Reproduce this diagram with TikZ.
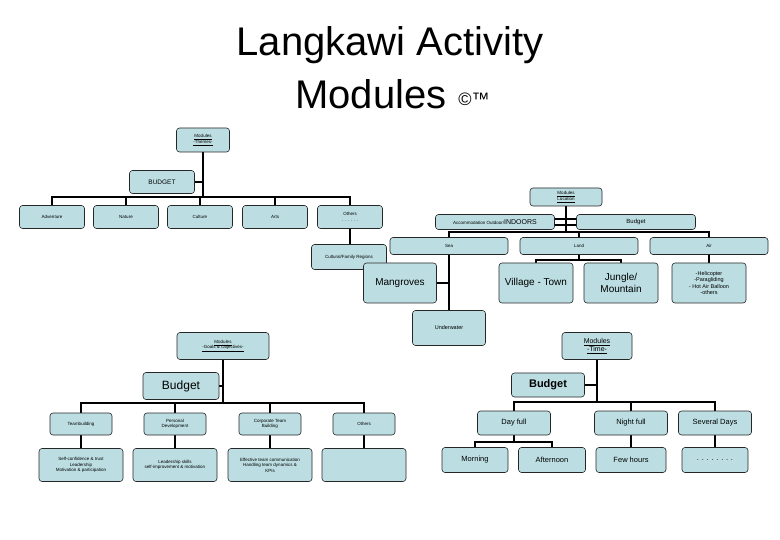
\documentclass[tikz,border=0pt]{standalone}
\usepackage{fontspec}
\setmainfont{Liberation Sans}
\usetikzlibrary{backgrounds}
\definecolor{boxblue}{HTML}{BCDEE2}
\tikzset{
  bx/.style={draw=black!85, fill=boxblue, rounded corners=3pt, line width=0.6pt,
    inner sep=1pt, align=center, font=\fontsize{4.5}{5.5}\selectfont},
  conn/.style={line width=2.6pt, black},
  med/.style={font=\fontsize{10}{12}\selectfont},
  mid/.style={font=\fontsize{7.5}{9}\selectfont},
}
\newcommand{\ul}[1]{\underline{#1}}
\begin{document}
\begin{tikzpicture}[x=1pt,y=-1pt]
\useasboundingbox (0,0) rectangle (780,540);
% title
\node[font=\fontsize{40}{44}\selectfont] (t1) at (390,45) {Langkawi Activity};
\node[font=\fontsize{40}{44}\selectfont] (t2) at (371,94) {Modules};
\node[font=\fontsize{18}{20}\selectfont] (t3) at (474,99) {©™};

% tree 1: themes
\node[bx, minimum width=53, minimum height=24] (themes) at (203,140) {\ul{Modules}\\\ul{-Themes-}};
\node[bx, minimum width=65, minimum height=23, font=\fontsize{6.5}{8}\selectfont] (bud1) at (162,182) {BUDGET};
\node[bx, minimum width=65, minimum height=23] (adv) at (52,217) {Adventure};
\node[bx, minimum width=65, minimum height=23] (nat) at (126,217) {Nature};
\node[bx, minimum width=65, minimum height=23] (cul) at (200,217) {Culture};
\node[bx, minimum width=65, minimum height=23] (arts) at (275,217) {Arts};
\node[bx, minimum width=65, minimum height=23] (oth) at (350,217) {Others\\. . . . . .};
\node[bx, minimum width=75, minimum height=25] (cult) at (349,257) {Cultural/Family Regions};
\coordinate (j1) at (203,197);

% tree 2: location
\node[bx, minimum width=72, minimum height=18] (loc) at (566,197) {\ul{Modules}\\\ul{Location}};
\node[bx, minimum width=119, minimum height=15] (acc) at (495,222) {Accommodation Outdoor/{\fontsize{7}{8}\selectfont INDOORS}};
\node[bx, minimum width=119, minimum height=15, font=\fontsize{6}{7}\selectfont] (bud2) at (636,222) {Budget};
\coordinate (j2) at (566,232);
\node[bx, minimum width=118, minimum height=17] (sea) at (449,246) {Sea};
\node[bx, minimum width=118, minimum height=17] (land) at (579,246) {Land};
\node[bx, minimum width=118, minimum height=17] (air) at (709,246) {Air};
\node[bx, minimum width=73, minimum height=40, med] (mang) at (400,283) {Mangroves};
\node[bx, minimum width=73, minimum height=35, font=\fontsize{5.5}{6.5}\selectfont] (under) at (449,328) {Underwater};
\node[bx, minimum width=74, minimum height=40, med] (vil) at (536,283) {Village - Town};
\node[bx, minimum width=74, minimum height=40, med] (jun) at (621,283) {Jungle/\\Mountain};
\node[bx, minimum width=74, minimum height=40, font=\fontsize{5.5}{6.5}\selectfont] (heli) at (709,283) {-Helicopter\\-Paragliding\\- Hot Air Balloon\\-others};
\coordinate (j3) at (579,260);

% tree 3: goals
\node[bx, minimum width=92, minimum height=27] (goals) at (223,346) {\ul{Modules}\\\ul{-Goals \& Objectives-}};
\node[bx, minimum width=76, minimum height=27, font=\fontsize{12}{14}\selectfont] (budl) at (181,386) {Budget};
\coordinate (j4) at (223,403);
\node[bx, minimum width=62, minimum height=22] (tb) at (81,424) {Teambuilding};
\node[bx, minimum width=62, minimum height=22] (pd) at (175,424) {Personal\\Development};
\node[bx, minimum width=62, minimum height=22] (ctb) at (270,424) {Corporate Team\\Building};
\node[bx, minimum width=62, minimum height=22] (goth) at (364,424) {Others};
\node[bx, minimum width=84, minimum height=33] (tb2) at (81,465) {Self-confidence \& trust\\Leadership\\Motivation \& participation};
\node[bx, minimum width=84, minimum height=33] (pd2) at (175,465) {Leadership skills\\self-improvement \& motivation};
\node[bx, minimum width=84, minimum height=33] (ctb2) at (270,465) {Effective team communication\\Handling team dynamics \&\\KPIs};
\node[bx, minimum width=84, minimum height=33] (goth2) at (364,465) {};

% tree 4: time
\node[bx, minimum width=70, minimum height=27, font=\fontsize{7}{8.5}\selectfont] (time) at (597,346) {\ul{Modules}\\\ul{-Time-}};
\node[bx, minimum width=73, minimum height=24, font=\fontsize{11}{13}\selectfont\bfseries] (budr) at (548,385) {Budget};
\coordinate (j5) at (597,402);
\node[bx, minimum width=73, minimum height=24, mid] (day) at (514,423) {Day full};
\node[bx, minimum width=73, minimum height=24, mid] (night) at (631,423) {Night full};
\node[bx, minimum width=73, minimum height=24, mid] (sev) at (715,423) {Several Days};
\coordinate (j6) at (514,442);
\node[bx, minimum width=66, minimum height=25, mid] (morn) at (475,460) {Morning};
\node[bx, minimum width=67, minimum height=25, mid] (aft) at (552,460) {Afternoon};
\node[bx, minimum width=70, minimum height=25, mid] (few) at (631,460) {Few hours};
\node[bx, minimum width=66, minimum height=25, mid] (dots) at (715,460) {. . . . . . . .};

\begin{scope}[on background layer]
\fill[white] (0,0) rectangle (780,540);
% tree 1
\draw[conn] (themes.south) -- (j1);
\draw[conn] (bud1.east) -- (bud1.east -| j1);
\draw[conn] (adv.north) |- (j1) -| (oth.north);
\draw[conn] (nat.north) -- (nat.north |- j1);
\draw[conn] (cul.north) -- (cul.north |- j1);
\draw[conn] (arts.north) -- (arts.north |- j1);
\draw[conn] (oth.south) -- (oth.south |- cult.north);
% tree 2
\draw[conn] (loc.south) -- (j2);
\draw[conn] ([yshift=-3]acc.east) -- ([yshift=-3]bud2.west);
\draw[conn] ([yshift=3]acc.east) -- ([yshift=3]bud2.west);
\draw[conn] (sea.north) |- (j2) -| (air.north);
\draw[conn] (land.north) -- (land.north |- j2);
\draw[conn] (sea.south) -- (under.north);
\draw[conn] (mang.east) -- (mang.east -| sea.south);
\draw[conn] (land.south) -- (j3);
\draw[conn] (vil.north) |- (j3) -| (jun.north);
\draw[conn] (air.south) -- (heli.north);
% tree 3
\draw[conn] (goals.south) -- (j4);
\draw[conn] (budl.east) -- (budl.east -| j4);
\draw[conn] (tb.north) |- (j4) -| (goth.north);
\draw[conn] (pd.north) -- (pd.north |- j4);
\draw[conn] (ctb.north) -- (ctb.north |- j4);
\draw[conn] (tb.south) -- (tb2.north);
\draw[conn] (pd.south) -- (pd2.north);
\draw[conn] (ctb.south) -- (ctb2.north);
\draw[conn] (goth.south) -- (goth2.north);
% tree 4
\draw[conn] (time.south) -- (j5);
\draw[conn] (budr.east) -- (budr.east -| j5);
\draw[conn] (day.north) |- (j5) -| (sev.north);
\draw[conn] (night.north) -- (night.north |- j5);
\draw[conn] (day.south) -- (j6);
\draw[conn] (morn.north) |- (j6) -| (aft.north);
\draw[conn] (night.south) -- (few.north);
\draw[conn] (sev.south) -- (dots.north);
\end{scope}
\end{tikzpicture}
\end{document}
